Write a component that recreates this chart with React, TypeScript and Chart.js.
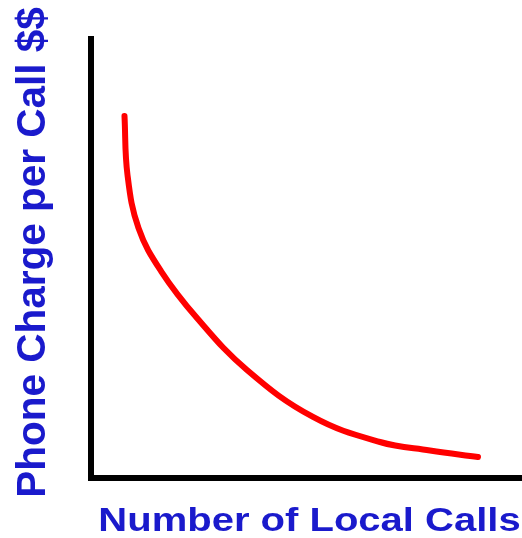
import React, { useEffect, useRef } from "react";
import { Chart, registerables } from "chart.js";

Chart.register(...registerables);

// Demand curve (x: number of calls, y: charge per call), 0–100 scale
const callsX: number[] = [7.77, 8.47, 11.02, 16.24, 24.59, 36.19, 51.51, 67.05, 78.65, 89.79];
const chargeY: number[] = [82.46, 69.02, 56.95, 47.15, 36.45, 24.6, 13.9, 8.2, 6.26, 4.78];

const xTitle = "Number of Local Calls";
const yTitle = "Phone Charge per Call $$";

const TITLE_COLOR = "#1a1acc";
const CURVE_COLOR = "#ff0000";
const AXIS_COLOR = "#000000";

const titlePlugin = {
  id: "axisTitlesCustom",
  afterDraw(chart: any) {
    const ctx: CanvasRenderingContext2D = chart.ctx;
    const area = chart.chartArea;
    ctx.save();
    ctx.fillStyle = TITLE_COLOR;
    ctx.textAlign = "center";
    ctx.textBaseline = "alphabetic";

    // x-axis title
    ctx.save();
    ctx.font = 'bold 40px "Liberation Sans", Arial, sans-serif';
    ctx.translate((area.left + area.right) / 2 + 3, area.bottom + 53);
    ctx.scale(1, 0.85);
    ctx.fillText(xTitle, 0, 0);
    ctx.restore();

    // y-axis title
    ctx.save();
    ctx.font = 'bold 40.5px "Liberation Sans", Arial, sans-serif';
    ctx.translate(area.left - 46, (area.top + area.bottom) / 2 - 6);
    ctx.rotate(-Math.PI / 2);
    ctx.fillText(yTitle, 0, 0);
    ctx.restore();

    ctx.restore();
  },
};

export default function App() {
  const canvasRef = useRef<HTMLCanvasElement | null>(null);

  useEffect(() => {
    if (!canvasRef.current) return;
    const chart = new Chart(canvasRef.current, {
      type: "line",
      data: {
        datasets: [
          {
            data: callsX.map((x, i) => ({ x, y: chargeY[i] })),
            borderColor: CURVE_COLOR,
            borderWidth: 6,
            borderCapStyle: "round",
            borderJoinStyle: "round",
            pointRadius: 0,
            pointHoverRadius: 0,
            tension: 0.4,
            fill: false,
          },
        ],
      },
      options: {
        animation: false,
        responsive: false,
        events: [],
        layout: { padding: { left: 91, top: 39, right: 0, bottom: 60 } },
        plugins: {
          legend: { display: false },
          tooltip: { enabled: false },
          title: { display: false },
        },
        scales: {
          x: {
            type: "linear",
            min: 0,
            max: 100,
            grid: { display: false, drawTicks: false },
            ticks: { display: false },
            border: { display: true, color: AXIS_COLOR, width: 6 },
          },
          y: {
            type: "linear",
            min: 0,
            max: 100,
            grid: { display: false, drawTicks: false },
            ticks: { display: false },
            border: { display: true, color: AXIS_COLOR, width: 6 },
          },
        },
      },
      plugins: [titlePlugin],
    } as any);
    return () => chart.destroy();
  }, []);

  return (
    <div style={{ position: "fixed", left: 0, top: 0, width: 522, height: 538, background: "#ffffff" }}>
      <canvas ref={canvasRef} width={522} height={538} style={{ display: "block" }} />
    </div>
  );
}
